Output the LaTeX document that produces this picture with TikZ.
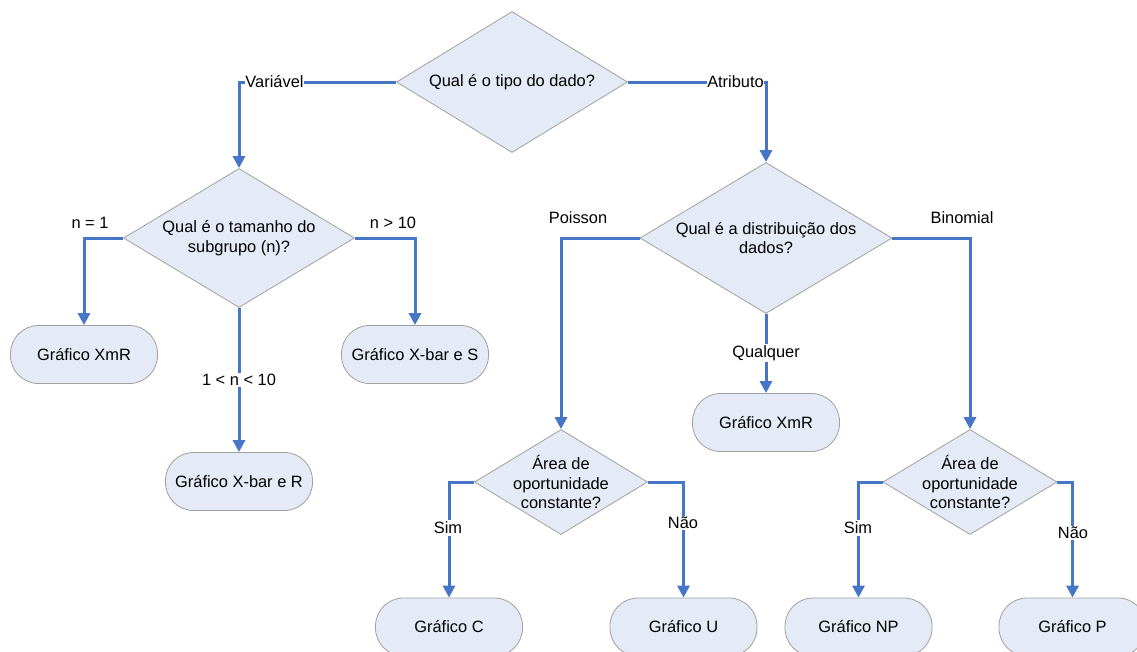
\documentclass[tikz,border=0pt]{standalone}
\usepackage{fontspec}
\setmainfont{Liberation Sans}
\usetikzlibrary{shapes.geometric,arrows.meta}
\definecolor{boxfill}{RGB}{229,235,246}
\definecolor{boxline}{RGB}{160,160,160}
\definecolor{flow}{RGB}{72,118,198}
\tikzset{
  basefont/.style={font=\fontsize{16.4}{19.5}\selectfont},
  decision/.style={diamond, draw=boxline, line width=0.8pt, fill=boxfill, inner sep=0pt},
  qtext/.style={basefont, align=center, inner sep=0pt},
  terminal/.style={rectangle, rounded corners=28pt, draw=boxline, line width=0.8pt, fill=boxfill,
    minimum width=147pt, minimum height=58pt, inner sep=0pt, basefont},
  flowline/.style={draw=flow, line width=3pt, -{Triangle[length=12pt,width=12pt]}},
  edgelabel/.style={basefont, inner sep=1.5pt},
  maskedlabel/.style={edgelabel, fill=white, inner xsep=0.5pt}
}
\begin{document}
\begin{tikzpicture}[x=1pt,y=-1pt]
\fill[white] (0,0) rectangle (1137,651);
\useasboundingbox (0,0) rectangle (1137,651);

% decisions
\node[decision, minimum width=231pt, minimum height=141pt,
  label={[qtext]center:Qual é o tipo do dado?}] (d1) at (512,82) {};
\node[decision, minimum width=231pt, minimum height=139pt,
  label={[qtext]center:{Qual é o tamanho do\\subgrupo (n)?}}] (d2) at (239,238) {};
\node[decision, minimum width=252pt, minimum height=151pt,
  label={[qtext]center:{Qual é a distribuição dos\\dados?}}] (d3) at (766,238) {};
\node[decision, minimum width=173pt, minimum height=105pt,
  label={[qtext]center:{Área de\\oportunidade\\constante?}}] (d4) at (561,482) {};
\node[decision, minimum width=174pt, minimum height=105pt,
  label={[qtext]center:{Área de\\oportunidade\\constante?}}] (d5) at (970,482) {};

% chart types
\node[terminal] (xmrA) at (84,354.5) {Gráfico XmR};
\node[terminal] (xbs) at (415,354.5) {Gráfico X-bar e S};
\node[terminal] (xbr) at (239,481.5) {Gráfico X-bar e R};
\node[terminal] (xmrB) at (766,422.5) {Gráfico XmR};
\node[terminal] (gc) at (449,627) {Gráfico C};
\node[terminal] (gu) at (683.5,627) {Gráfico U};
\node[terminal] (gnp) at (858.5,627) {Gráfico NP};
\node[terminal] (gp) at (1072.5,627) {Gráfico P};

% connectors
\draw[flowline] (d1.west) -| (d2.north);
\draw[flowline] (d1.east) -| (d3.north);
\draw[flowline] (d2.west) -| (xmrA.north);
\draw[flowline] (d2.east) -| (xbs.north);
\draw[flowline] (d2.south) -- (xbr.north);
\draw[flowline] (d3.west) -| (d4.north);
\draw[flowline] (d3.east) -| (d5.north);
\draw[flowline] (d3.south) -- (xmrB.north);
\draw[flowline] (d4.west) -| (gc.north);
\draw[flowline] (d4.east) -| (gu.north);
\draw[flowline] (d5.west) -| (gnp.north);
\draw[flowline] (d5.east) -| (gp.north);

% connector labels
\node[maskedlabel] (lvar) at (274.5,82) {Variável};
\node[maskedlabel] (latr) at (735.5,82) {Atributo};
\node[edgelabel] (ln1) at (90,223) {n = 1};
\node[edgelabel] (ln10) at (393,223) {n > 10};
\node[maskedlabel] (lmid) at (239,380) {1 < n < 10};
\node[edgelabel] (lpoi) at (578,218) {Poisson};
\node[edgelabel] (lbin) at (962,218) {Binomial};
\node[maskedlabel] (lqq) at (766,353) {Qualquer};
\node[maskedlabel] (lsimA) at (448,528) {Sim};
\node[maskedlabel] (lnaoA) at (683,523) {Não};
\node[maskedlabel] (lsimB) at (858,528) {Sim};
\node[maskedlabel] (lnaoB) at (1073,533) {Não};
\end{tikzpicture}
\end{document}
